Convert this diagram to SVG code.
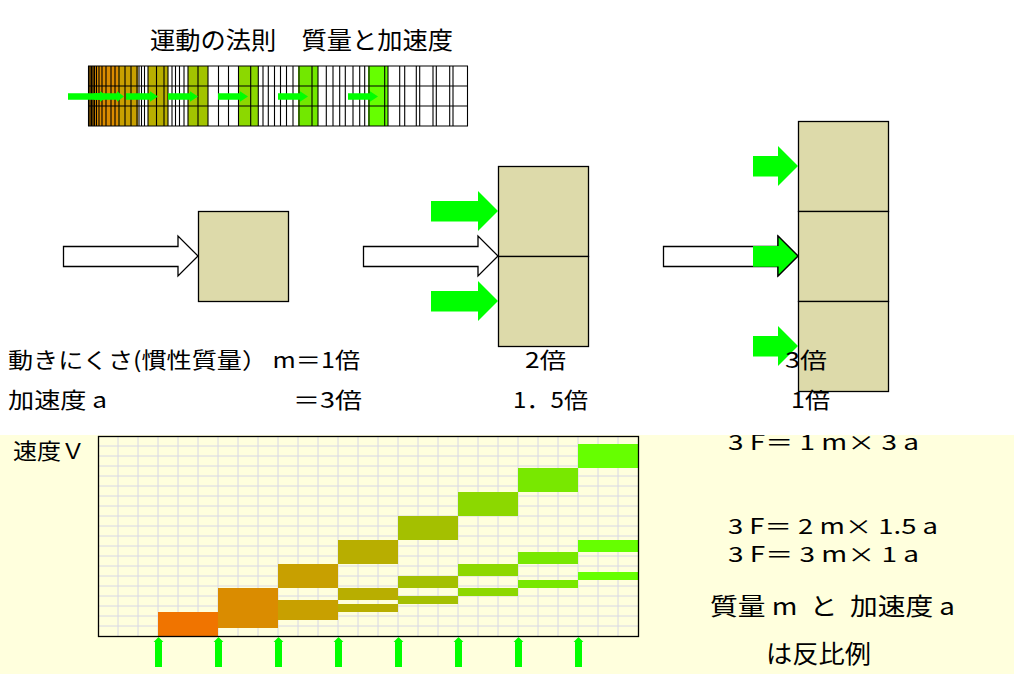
<svg xmlns="http://www.w3.org/2000/svg" width="1014" height="674" viewBox="0 0 1014 674">
<style>
.t{font-family:"Noto Sans CJK JP","Noto Sans",sans-serif;fill:#000}
.box{fill:#DDDAAA;stroke:#000;stroke-width:1.3}
.warrow{fill:#fff;stroke:#000;stroke-width:1.3}
.garrow{fill:#00FF00;stroke:none}
.grid{stroke:#D8D8E4;stroke-width:1;fill:none}
.sline{stroke:#000;stroke-width:1.1;fill:none}
</style>
<defs>
<clipPath id="clipTop"><rect x="600" y="435" width="414" height="60"/></clipPath>
</defs>
<rect x="0" y="0" width="1014" height="674" fill="#fff"/>
<rect id="bg-yellow" x="0" y="435" width="1014" height="239" fill="#FFFFDD"/>

<g id="title"><text class="t" x="150" y="48.5" font-size="24" textLength="303" lengthAdjust="spacingAndGlyphs">運動の法則　質量と加速度</text></g>

<g id="strip">
<rect x="88" y="66" width="380" height="60" fill="#fff"/>
<rect x="88" y="66" width="30" height="60" fill="#DA8C00"/>
<rect x="118" y="66" width="20" height="60" fill="#C8A000"/>
<rect x="148" y="66" width="20" height="60" fill="#B8AE00"/>
<rect x="188" y="66" width="20" height="60" fill="#A2C400"/>
<rect x="238" y="66" width="20" height="60" fill="#8CD800"/>
<rect x="298" y="66" width="20" height="60" fill="#72E800"/>
<rect x="368" y="66" width="20" height="60" fill="#66FF00"/>
<path class="sline" d="M88 66H468M88 86H468M88 106H468M88 126H468
M88.5 66V126M90 66V126M91.5 66V126M93 66V126M94.5 66V126M96.5 66V126M99 66V126M102 66V126M106 66V126M111 66V126M115 66V126M119 66V126M125 66V126M131 66V126M137 66V126M139 66V126M141.5 66V126M144.5 66V126M148 66V126M156.5 66V126M164 66V126M168 66V126M172 66V126M175.5 66V126M179.5 66V126M184 66V126M188 66V126M198 66V126M208 66V126M218.5 66V126M228.5 66V126M238.5 66V126M250.7 66V126M258.3 66V126M263 66V126M268.3 66V126M274.5 66V126M280.5 66V126M286.5 66V126M293 66V126M299 66V126M312 66V126M318 66V126M326.3 66V126M333 66V126M339.7 66V126M345.3 66V126M353 66V126M359.7 66V126M364.7 66V126M369 66V126M384.7 66V126M388 66V126M399.7 66V126M404.7 66V126M416.3 66V126M419.7 66V126M433 66V126M436.3 66V126M449.7 66V126M453 66V126M467.5 66V126"/>
<g class="garrow">
<polygon points="68,93.3 100,93.3 100,91.3 108,96.5 100,101.7 100,99.7 68,99.7"/>
<polygon points="94,93.3 117,93.3 117,91.3 124,96.5 117,101.7 117,99.7 94,99.7"/>
<polygon points="126,93.3 150,93.3 150,91.3 158,96.5 150,101.7 150,99.7 126,99.7"/>
<polygon points="168,93.3 190,93.3 190,91.3 198,96.5 190,101.7 190,99.7 168,99.7"/>
<polygon points="218,93.3 240,93.3 240,91.3 248,96.5 240,101.7 240,99.7 218,99.7"/>
<polygon points="278,93.3 300,93.3 300,91.3 308,96.5 300,101.7 300,99.7 278,99.7"/>
<polygon points="348,93.3 370,93.3 370,91.3 378,96.5 370,101.7 370,99.7 348,99.7"/>
</g>
</g>

<g id="mass1">
<polygon class="warrow" points="63.5,246.5 178,246.5 178,236 198,256 178,276 178,266.5 63.5,266.5"/>
<rect class="box" x="198.5" y="211.5" width="90" height="90"/>
</g>

<g id="mass2">
<polygon class="warrow" points="363.5,246.5 478,246.5 478,236 498,256 478,276 478,266.5 363.5,266.5"/>
<rect class="box" x="498.5" y="166.5" width="90" height="90"/>
<rect class="box" x="498.5" y="256.5" width="90" height="90"/>
<polygon class="garrow" points="431,201 478,201 478,191 498,211 478,231 478,221.5 431,221.5"/>
<polygon class="garrow" points="431,291 478,291 478,281 498,301 478,321 478,311.5 431,311.5"/>
</g>

<g id="mass3">
<rect class="box" x="798.5" y="121.5" width="90" height="90"/>
<rect class="box" x="798.5" y="211.5" width="90" height="90"/>
<rect class="box" x="798.5" y="301.5" width="90" height="90"/>
<polygon class="warrow" points="663.5,246.5 778,246.5 778,236 798,256 778,276 778,266.5 663.5,266.5"/>
<polygon class="garrow" points="753,246 778,246 778,236 798,256 778,276 778,266.8 753,266.8"/>
<polyline points="778,246 778,236 798,256 778,276 778,266.5" fill="none" stroke="#000" stroke-width="1.3"/>
<polygon class="garrow" points="753,156 778,156 778,146 798,166 778,186 778,176.5 753,176.5"/>
<polygon class="garrow" points="753,336 778,336 778,326 798,346 778,366 778,356.5 753,356.5"/>
</g>

<g id="labels-mid">
<text class="t" x="8" y="367.5" font-size="22" textLength="352" lengthAdjust="spacingAndGlyphs">動きにくさ(慣性質量） m＝1倍</text>
<text class="t" x="8" y="407.5" font-size="22" textLength="99" lengthAdjust="spacingAndGlyphs">加速度 a</text>
<text class="t" x="293" y="407.5" font-size="22" textLength="69" lengthAdjust="spacingAndGlyphs">＝3倍</text>
<text class="t" x="525" y="367.5" font-size="22" textLength="41" lengthAdjust="spacingAndGlyphs">2倍</text>
<text class="t" x="513" y="407.5" font-size="22" textLength="75" lengthAdjust="spacingAndGlyphs">1．5倍</text>
<text class="t" x="785" y="367.5" font-size="22" textLength="42" lengthAdjust="spacingAndGlyphs">3倍</text>
<text class="t" x="791" y="407.5" font-size="22" textLength="39" lengthAdjust="spacingAndGlyphs">1倍</text>
</g>

<g id="graph">
<path class="grid" d="M118 436V636M138 436V636M158 436V636M178 436V636M198 436V636M218 436V636M238 436V636M258 436V636M278 436V636M298 436V636M318 436V636M338 436V636M358 436V636M378 436V636M398 436V636M418 436V636M438 436V636M458 436V636M478 436V636M498 436V636M518 436V636M538 436V636M558 436V636M578 436V636M598 436V636M618 436V636
M98 446H638M98 456H638M98 466H638M98 476H638M98 486H638M98 496H638M98 506H638M98 516H638M98 526H638M98 536H638M98 546H638M98 556H638M98 566H638M98 576H638M98 586H638M98 596H638M98 606H638M98 616H638M98 626H638"/>
<g id="bars">
<g fill="#F07400"><rect x="158" y="612" width="60" height="24"/><rect x="158" y="624" width="60" height="12"/><rect x="158" y="628" width="60" height="8"/></g>
<g fill="#DA8C00"><rect x="218" y="588" width="60" height="24"/><rect x="218" y="612" width="60" height="12"/><rect x="218" y="620" width="60" height="8"/></g>
<g fill="#C8A000"><rect x="278" y="564" width="60" height="24"/><rect x="278" y="600" width="60" height="12"/><rect x="278" y="612" width="60" height="8"/></g>
<g fill="#B8AE00"><rect x="338" y="540" width="60" height="24"/><rect x="338" y="588" width="60" height="12"/><rect x="338" y="604" width="60" height="8"/></g>
<g fill="#A4C000"><rect x="398" y="516" width="60" height="24"/><rect x="398" y="576" width="60" height="12"/><rect x="398" y="596" width="60" height="8"/></g>
<g fill="#8CD800"><rect x="458" y="492" width="60" height="24"/><rect x="458" y="564" width="60" height="12"/><rect x="458" y="588" width="60" height="8"/></g>
<g fill="#78E800"><rect x="518" y="468" width="60" height="24"/><rect x="518" y="552" width="60" height="12"/><rect x="518" y="580" width="60" height="8"/></g>
<g fill="#66FF00"><rect x="578" y="444" width="60" height="24"/><rect x="578" y="540" width="60" height="12"/><rect x="578" y="572" width="60" height="8"/></g>
</g>
<rect x="98.5" y="436.5" width="540" height="200" fill="none" stroke="#000" stroke-width="1.3"/>
<text class="t" x="13" y="459" font-size="22" textLength="72" lengthAdjust="spacingAndGlyphs">速度Ｖ</text>
</g>

<g id="force-arrows" class="garrow">
<polygon points="155,667 155,642 153.5,642 158.5,637 163.5,642 162,642 162,667"/>
<polygon points="215,667 215,642 213.5,642 218.5,637 223.5,642 222,642 222,667"/>
<polygon points="275,667 275,642 273.5,642 278.5,637 283.5,642 282,642 282,667"/>
<polygon points="335,667 335,642 333.5,642 338.5,637 343.5,642 342,642 342,667"/>
<polygon points="395,667 395,642 393.5,642 398.5,637 403.5,642 402,642 402,667"/>
<polygon points="455,667 455,642 453.5,642 458.5,637 463.5,642 462,642 462,667"/>
<polygon points="515,667 515,642 513.5,642 518.5,637 523.5,642 522,642 522,667"/>
<polygon points="575,667 575,642 573.5,642 578.5,637 583.5,642 582,642 582,667"/>
</g>

<g id="equations">
<text class="t" x="728" y="450" font-size="21" textLength="191" lengthAdjust="spacingAndGlyphs" clip-path="url(#clipTop)">3 F＝ 1 m× 3 a</text>
<text class="t" x="728" y="534" font-size="21" textLength="210" lengthAdjust="spacingAndGlyphs">3 F＝ 2 m× 1.5 a</text>
<text class="t" x="728" y="562" font-size="21" textLength="191" lengthAdjust="spacingAndGlyphs">3 F＝ 3 m× 1 a</text>
<text class="t" x="710" y="615" font-size="24" textLength="245" lengthAdjust="spacingAndGlyphs" xml:space="preserve">質量 m  と  加速度 a</text>
<text class="t" x="766" y="663" font-size="25" textLength="105" lengthAdjust="spacingAndGlyphs">は反比例</text>
</g>
</svg>
